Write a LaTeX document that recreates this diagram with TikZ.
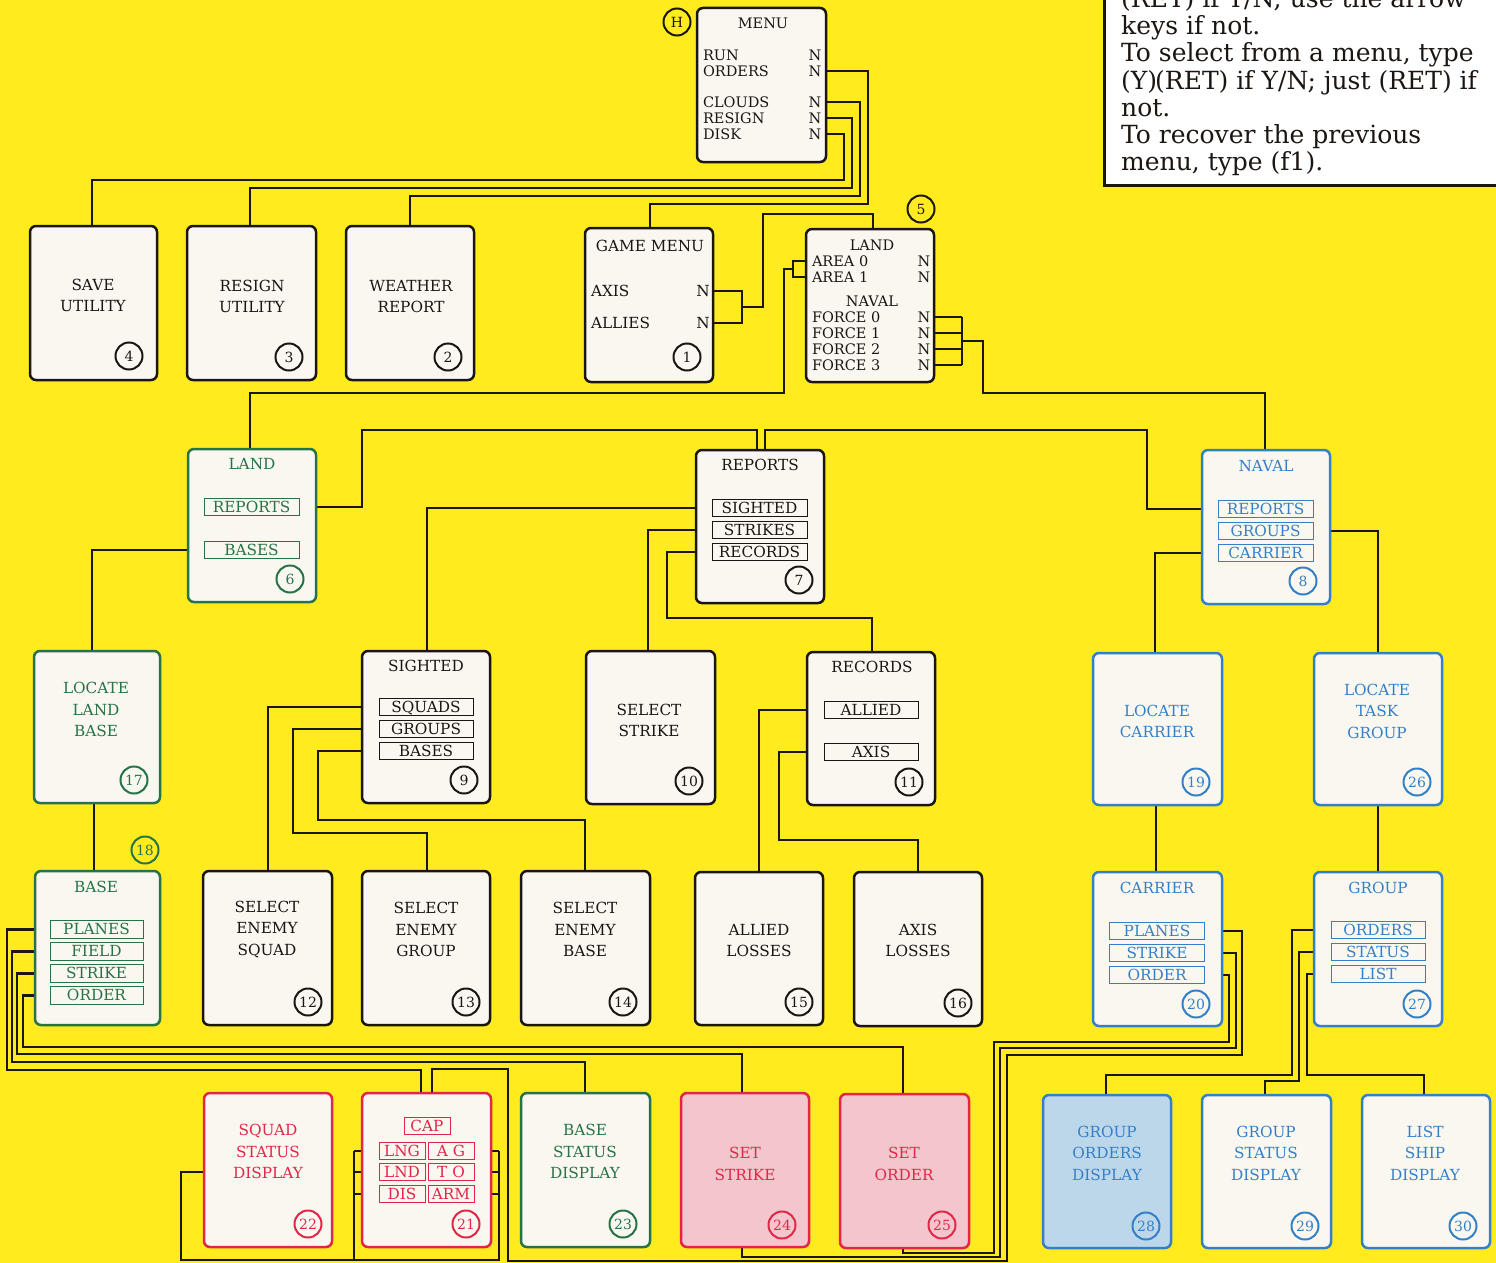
\documentclass[tikz,border=0pt]{standalone}
\usepackage{fontspec}
\setmainfont{DejaVu Serif}
\pgfdeclarelayer{back}
\pgfdeclarelayer{bg}
\pgfsetlayers{back,bg,main}
\definecolor{bgy}{RGB}{255,235,30}
\definecolor{paper}{RGB}{249,247,240}
\definecolor{ink}{RGB}{28,22,18}
\definecolor{grn}{RGB}{38,115,72}
\definecolor{blu}{RGB}{52,128,200}
\definecolor{rd}{RGB}{226,38,72}
\definecolor{pinkf}{RGB}{242,198,204}
\definecolor{bluef}{RGB}{188,214,234}
\tikzset{
 wire/.style={draw=ink, line width=2.4pt},
 bx/.style={rectangle, draw=#1, line width=2.5pt, rounded corners=6pt, fill=paper, inner sep=0pt, outer sep=0pt},
 lb/.style={inner sep=0pt, outer sep=0pt, text=#1, font=\fontsize{15.3}{21.5}\selectfont},
 ml/.style={lb=#1, align=center},
 sm/.style={inner sep=0pt, outer sep=0pt, text=ink, font=\fontsize{14.5}{16}\selectfont},
 sb/.style={rectangle, draw=#1, line width=0.9pt, text=#1, inner sep=0pt, outer sep=0pt, minimum height=17.5pt, text height=10.8pt, text depth=0pt, font=\fontsize{15.3}{15.3}\selectfont},
 num/.style={circle, draw=#1, text=#1, line width=2pt, minimum size=27pt, inner sep=0pt, font=\fontsize{14}{14}\selectfont},
 notebox/.style={rectangle, draw=ink, line width=3pt, fill=white, inner sep=0pt},
 nt/.style={anchor=base west, inner sep=0pt, text=ink, font=\fontsize{25}{27}\selectfont}
}
\newcommand\mkbox[7]{\node[bx=#2, fill=#3, minimum width={(#6-#4)*1pt}, minimum height={(#7-#5)*1pt}] (#1) at ({(#4+#6)/2},{(#5+#7)/2}) {};}
\begin{document}
\begin{tikzpicture}[x=1pt,y=-1pt]
\useasboundingbox (0,0) rectangle (1496,1263);
\begin{pgfonlayer}{back}
\fill[bgy] (0,0) rectangle (1496,1263);
\end{pgfonlayer}
\clip (0,0) rectangle (1496,1263);

% note box
\node[notebox, minimum width=416pt, minimum height=215pt] (note) at (1312,77.5) {};
\node[nt] (n1) at (1121,8) {(RET) if Y/N; use the arrow};
\node[nt] (n2) at (1121,35) {keys if not.};
\node[nt] (n3) at (1121,62) {To select from a menu, type};
\node[nt] (n4) at (1121,89) {(Y)\kern-2pt(RET) if Y/N; just (RET) if};
\node[nt] (n5) at (1121,116) {not.};
\node[nt] (n6) at (1121,143) {To recover the previous};
\node[nt] (n7) at (1121,170) {menu, type (f1).};

% boxes
\mkbox{mH}{ink}{paper}{697}{8}{826}{162}
\mkbox{u4}{ink}{paper}{30}{226}{157}{380}
\mkbox{u3}{ink}{paper}{187}{226}{316}{380}
\mkbox{u2}{ink}{paper}{346}{226}{474}{380}
\mkbox{g1}{ink}{paper}{585}{228}{713}{382}
\mkbox{m5}{ink}{paper}{806}{229}{934}{382}
\mkbox{b6}{grn}{paper}{188}{449}{316}{602}
\mkbox{b7}{ink}{paper}{696}{450}{824}{603}
\mkbox{b8}{blu}{paper}{1202}{450}{1330}{604}
\mkbox{b17}{grn}{paper}{34}{651}{160}{803}
\mkbox{b9}{ink}{paper}{362}{651}{490}{803}
\mkbox{b10}{ink}{paper}{586}{651}{715}{804}
\mkbox{b11}{ink}{paper}{807}{652}{935}{805}
\mkbox{b19}{blu}{paper}{1093}{653}{1222}{805}
\mkbox{b26}{blu}{paper}{1314}{653}{1442}{805}
\mkbox{b18}{grn}{paper}{35}{871}{160}{1025}
\mkbox{b12}{ink}{paper}{203}{871}{332}{1025}
\mkbox{b13}{ink}{paper}{362}{871}{490}{1025}
\mkbox{b14}{ink}{paper}{521}{871}{650}{1025}
\mkbox{b15}{ink}{paper}{695}{872}{823}{1025}
\mkbox{b16}{ink}{paper}{854}{872}{982}{1026}
\mkbox{b20}{blu}{paper}{1093}{872}{1222}{1026}
\mkbox{b27}{blu}{paper}{1314}{872}{1442}{1026}
\mkbox{b22}{rd}{paper}{204}{1093}{332}{1247}
\mkbox{b21}{rd}{paper}{362}{1093}{491}{1247}
\mkbox{b23}{grn}{paper}{521}{1093}{650}{1247}
\mkbox{b24}{rd}{pinkf}{681}{1093}{809}{1247}
\mkbox{b25}{rd}{pinkf}{840}{1094}{969}{1248}
\mkbox{b28}{blu}{bluef}{1043}{1095}{1171}{1248}
\mkbox{b29}{blu}{paper}{1202}{1095}{1331}{1248}
\mkbox{b30}{blu}{paper}{1362}{1095}{1490}{1248}

% MENU
\node[sm] (tMenu) at (763,23) {MENU};
\node[sm,anchor=west] (iRUN) at (703,55) {RUN};
\node[sm,anchor=west] (iORD) at (703,71) {ORDERS};
\node[sm,anchor=west] (iCLO) at (703,102) {CLOUDS};
\node[sm,anchor=west] (iRES) at (703,118) {RESIGN};
\node[sm,anchor=west] (iDSK) at (703,134) {DISK};
\node[sm] (nRUN) at (815,55) {N};
\node[sm] (nORD) at (815,71) {N};
\node[sm] (nCLO) at (815,102) {N};
\node[sm] (nRES) at (815,118) {N};
\node[sm] (nDSK) at (815,134) {N};
\node[num=ink] (cH) at (677,22) {H};

% row 1
\node[ml=ink] (t4) at (93,295.5) {SAVE\\UTILITY};
\node[ml=ink] (t3) at (252,296.5) {RESIGN\\UTILITY};
\node[ml=ink] (t2) at (411,296.5) {WEATHER\\REPORT};
\node[num=ink] (c4) at (129,356) {4};
\node[num=ink] (c3) at (289,357) {3};
\node[num=ink] (c2) at (448,357) {2};
\node[lb=ink] (tGame) at (650,246) {GAME MENU};
\node[lb=ink,anchor=west] (iAX) at (591,291) {AXIS};
\node[lb=ink,anchor=west] (iAL) at (591,323) {ALLIES};
\node[lb=ink] (nAX) at (703,291) {N};
\node[lb=ink] (nAL) at (703,323) {N};
\node[num=ink] (c1) at (687,357) {1};
\node[sm] (tLand5) at (872,245) {LAND};
\node[sm,anchor=west] (iA0) at (812,261) {AREA 0};
\node[sm,anchor=west] (iA1) at (812,277) {AREA 1};
\node[sm] (nA0) at (924,261) {N};
\node[sm] (nA1) at (924,277) {N};
\node[sm] (tNav5) at (872,301) {NAVAL};
\node[sm,anchor=west] (iF0) at (812,317) {FORCE 0};
\node[sm,anchor=west] (iF1) at (812,333) {FORCE 1};
\node[sm,anchor=west] (iF2) at (812,349) {FORCE 2};
\node[sm,anchor=west] (iF3) at (812,365) {FORCE 3};
\node[sm] (nF0) at (924,317) {N};
\node[sm] (nF1) at (924,333) {N};
\node[sm] (nF2) at (924,349) {N};
\node[sm] (nF3) at (924,365) {N};
\node[num=ink] (c5) at (921,209) {5};

% row 2
\node[lb=grn] (t6) at (252,464) {LAND};
\node[sb=grn, minimum width=95pt] (s6rep) at (251.5,507) {REPORTS};
\node[sb=grn, minimum width=95pt] (s6bas) at (251.5,550) {BASES};
\node[num=grn] (c6) at (290,579) {6};
\node[lb=ink] (t7) at (760,465) {REPORTS};
\node[sb=ink, minimum width=95pt] (s7sig) at (759.5,508) {SIGHTED};
\node[sb=ink, minimum width=95pt] (s7str) at (759.5,530) {STRIKES};
\node[sb=ink, minimum width=95pt] (s7rec) at (759.5,552) {RECORDS};
\node[num=ink] (c7) at (799,580) {7};
\node[lb=blu] (t8) at (1266,466) {NAVAL};
\node[sb=blu, minimum width=95pt] (s8rep) at (1265.5,509) {REPORTS};
\node[sb=blu, minimum width=95pt] (s8grp) at (1265.5,531) {GROUPS};
\node[sb=blu, minimum width=95pt] (s8car) at (1265.5,553) {CARRIER};
\node[num=blu] (c8) at (1303,581) {8};

% row 3
\node[ml=grn] (t17) at (96,709.5) {LOCATE\\LAND\\BASE};
\node[num=grn] (c17) at (134,780) {17};
\node[lb=ink] (t9) at (426,666) {SIGHTED};
\node[sb=ink, minimum width=94pt] (s9sq) at (426,707) {SQUADS};
\node[sb=ink, minimum width=94pt] (s9gr) at (426,729) {GROUPS};
\node[sb=ink, minimum width=94pt] (s9ba) at (426,751) {BASES};
\node[num=ink] (c9) at (464,780) {9};
\node[ml=ink] (t10) at (649,720.5) {SELECT\\STRIKE};
\node[num=ink] (c10) at (689,781) {10};
\node[lb=ink] (t11) at (872,667) {RECORDS};
\node[sb=ink, minimum width=94pt] (s11al) at (871,710) {ALLIED};
\node[sb=ink, minimum width=94pt] (s11ax) at (871,752) {AXIS};
\node[num=ink] (c11) at (909,782) {11};
\node[ml=blu] (t19) at (1157,721.5) {LOCATE\\CARRIER};
\node[num=blu] (c19) at (1196,782) {19};
\node[ml=blu] (t26) at (1377,711) {LOCATE\\TASK\\GROUP};
\node[num=blu] (c26) at (1417,782) {26};

% row 4
\node[lb=grn] (t18) at (96,887) {BASE};
\node[sb=grn, minimum width=93pt] (s18pl) at (96.5,929.5) {PLANES};
\node[sb=grn, minimum width=93pt] (s18fi) at (96.5,951.5) {FIELD};
\node[sb=grn, minimum width=93pt] (s18st) at (96.5,973.5) {STRIKE};
\node[sb=grn, minimum width=93pt] (s18or) at (96.5,995.5) {ORDER};
\node[num=grn] (c18) at (145,850) {18};
\node[ml=ink] (t12) at (267,929.5) {SELECT\\ENEMY\\SQUAD};
\node[num=ink] (c12) at (308,1002) {12};
\node[ml=ink] (t13) at (426,929.5) {SELECT\\ENEMY\\GROUP};
\node[num=ink] (c13) at (466,1002) {13};
\node[ml=ink] (t14) at (585,929.5) {SELECT\\ENEMY\\BASE};
\node[num=ink] (c14) at (623,1002) {14};
\node[ml=ink] (t15) at (759,940.5) {ALLIED\\LOSSES};
\node[num=ink] (c15) at (799,1002) {15};
\node[ml=ink] (t16) at (918,940.5) {AXIS\\LOSSES};
\node[num=ink] (c16) at (958,1003) {16};
\node[lb=blu] (t20) at (1157,888) {CARRIER};
\node[sb=blu, minimum width=95pt] (s20pl) at (1157,931) {PLANES};
\node[sb=blu, minimum width=95pt] (s20st) at (1157,953) {STRIKE};
\node[sb=blu, minimum width=95pt] (s20or) at (1157,975) {ORDER};
\node[num=blu] (c20) at (1196,1004) {20};
\node[lb=blu] (t27) at (1378,888) {GROUP};
\node[sb=blu, minimum width=94pt] (s27or) at (1378,930) {ORDERS};
\node[sb=blu, minimum width=94pt] (s27st) at (1378,952) {STATUS};
\node[sb=blu, minimum width=94pt] (s27li) at (1378,974) {LIST};
\node[num=blu] (c27) at (1417,1004) {27};

% row 5
\node[ml=rd] (t22) at (268,1151.5) {SQUAD\\STATUS\\DISPLAY};
\node[num=rd] (c22) at (308,1224) {22};
\node[sb=rd, minimum width=46pt] (sCAP) at (427,1126) {CAP};
\node[sb=rd, minimum width=46pt] (sLNG) at (402,1151) {LNG};
\node[sb=rd, minimum width=46pt] (sAG) at (451,1151) {A G};
\node[sb=rd, minimum width=46pt] (sLND) at (402,1172) {LND};
\node[sb=rd, minimum width=46pt] (sTO) at (451,1172) {T O};
\node[sb=rd, minimum width=46pt] (sDIS) at (402,1194) {DIS};
\node[sb=rd, minimum width=46pt] (sARM) at (451,1194) {ARM};
\node[num=rd] (c21) at (466,1224) {21};
\node[ml=grn] (t23) at (585,1151.5) {BASE\\STATUS\\DISPLAY};
\node[num=grn] (c23) at (623,1224) {23};
\node[ml=rd] (t24) at (745,1164) {SET\\STRIKE};
\node[num=rd] (c24) at (782,1225) {24};
\node[ml=rd] (t25) at (904,1164) {SET\\ORDER};
\node[num=rd] (c25) at (942,1225) {25};
\node[ml=blu] (t28) at (1107,1153) {GROUP\\ORDERS\\DISPLAY};
\node[num=blu] (c28) at (1146,1226) {28};
\node[ml=blu] (t29) at (1266,1153) {GROUP\\STATUS\\DISPLAY};
\node[num=blu] (c29) at (1305,1226) {29};
\node[ml=blu] (t30) at (1425,1153) {LIST\\SHIP\\DISPLAY};
\node[num=blu] (c30) at (1463,1226) {30};

\begin{pgfonlayer}{bg}
% menu
\draw[wire] (mH.east |- nORD) -| (868,204) -| (g1.north -| 650,0);
\draw[wire] (mH.east |- nCLO) -| (860,196) -| (u2.north -| 410,0);
\draw[wire] (mH.east |- nRES) -| (852,188) -| (u3.north -| 250,0);
\draw[wire] (mH.east |- nDSK) -| (844,180) -| (u4.north -| 92,0);
% game menu
\draw[wire] (g1.east |- nAX) -- (742,0 |- nAX) -- (742,0 |- nAL) -- (g1.east |- nAL);
\draw[wire] (742,307) -| (763,214) -| (m5.north -| 873,0);
% land/naval
\draw[wire] (m5.west |- iA0) -- (793,0 |- iA0) -- (793,0 |- iA1) -- (m5.west |- iA1);
\draw[wire] (793,269) -| (784,393) -| (b6.north -| 250,0);
\foreach \n in {nF0,nF1,nF2,nF3} \draw[wire] (m5.east |- \n) -- (962,0 |- \n);
\draw[wire] (962,0 |- nF0) -- (962,0 |- nF3);
\draw[wire] (962,341) -| (983,393) -| (b8.north -| 1265,0);
% row 2
\draw[wire] (b6.east |- s6rep) -| (362,430) -| (b7.north -| 757,0);
\draw[wire] (b7.north -| 765,0) |- (1147,430) |- (b8.west |- s8rep);
\draw[wire] (b6.west |- s6bas) -| (b17.north -| 92,0);
\draw[wire] (b17.south -| 94,0) -- (b18.north -| 94,0);
\draw[wire] (b7.west |- s7sig) -| (b9.north -| 427,0);
\draw[wire] (b7.west |- s7str) -| (b10.north -| 648,0);
\draw[wire] (b7.west |- s7rec) -| (667,618) -| (b11.north -| 872,0);
\draw[wire] (b8.west |- s8car) -| (b19.north -| 1155,0);
\draw[wire] (b8.east |- s8grp) -| (b26.north -| 1378,0);
\draw[wire] (b19.south -| 1156,0) -- (b20.north -| 1156,0);
\draw[wire] (b26.south -| 1378,0) -- (b27.north -| 1378,0);
% row 3
\draw[wire] (b9.west |- s9sq) -| (b12.north -| 268,0);
\draw[wire] (b9.west |- s9gr) -| (293,833) -| (b13.north -| 427,0);
\draw[wire] (b9.west |- s9ba) -| (318,820) -| (b14.north -| 585,0);
\draw[wire] (b11.west |- s11al) -| (b15.north -| 759,0);
\draw[wire] (b11.west |- s11ax) -| (779,840) -| (b16.north -| 918,0);
% base
\draw[wire] (b18.west |- s18pl) -| (7,1070) -| (b21.north -| 421,0);
\draw[wire] (b18.west |- s18fi) -| (12,1062) -| (b23.north -| 585,0);
\draw[wire] (b18.west |- s18st) -| (17,1054) -| (b24.north -| 742,0);
\draw[wire] (b18.west |- s18or) -| (23,1047) -| (b25.north -| 903,0);
% carrier
\draw[wire] (b20.east |- s20or) -| (1229,1042) -| (994,1253) -| (b25.south -| 903,0);
\draw[wire] (b20.east |- s20st) -| (1236,1048) -| (1000,1257) -| (b24.south -| 742,0);
\draw[wire] (b20.east |- s20pl) -| (1242,1055) -| (1007,1261) -| (508,1069) -| (b21.north -| 432,0);
% cap
\foreach \n in {sLNG,sLND,sDIS} \draw[wire] (b21.west |- \n) -- (354,0 |- \n);
\foreach \n in {sAG,sTO,sARM} \draw[wire] (b21.east |- \n) -- (499,0 |- \n);
\draw[wire] (354,0 |- sLNG) -- (354,1260);
\draw[wire] (499,0 |- sAG) -- (499,1260) -- (181,1260) -- (181,1172) -- (b22.west |- 0,1172);
% group
\draw[wire] (b27.west |- s27or) -| (1292,1075) -| (b28.north -| 1106,0);
\draw[wire] (b27.west |- s27st) -| (1299,1081) -| (b29.north -| 1265,0);
\draw[wire] (b27.west |- s27li) -| (1307,1075) -| (b30.north -| 1424,0);
\end{pgfonlayer}
\end{tikzpicture}
\end{document}
